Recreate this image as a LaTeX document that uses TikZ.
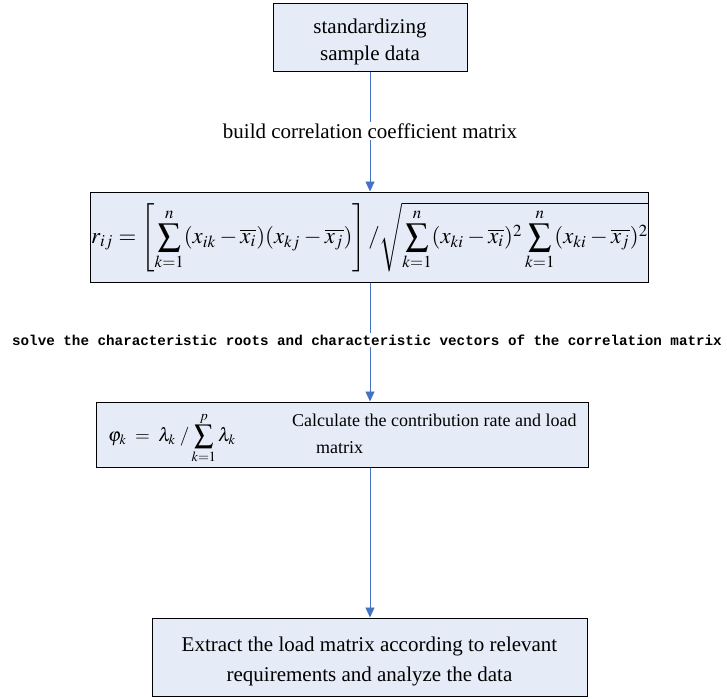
\documentclass[tikz,border=0pt]{standalone}
\usepackage{mathptmx}
\usepackage[no-math]{fontspec}
\setmainfont{Liberation Serif}
\setmonofont{Liberation Mono}
\usepackage{graphicx}
\usetikzlibrary{arrows.meta}
\definecolor{boxfill}{RGB}{230,236,247}
\definecolor{linkblue}{RGB}{68,114,196}
\begin{document}
\begin{tikzpicture}[x=1pt,y=-1pt,
  boxstyle/.style={draw=black, line width=1pt, fill=boxfill, inner sep=0pt},
  conn/.style={draw=linkblue, line width=0.9pt, -{Triangle[length=10pt,width=9pt]}},
  lbl/.style={fill=white, inner sep=2pt, font=\fontsize{21}{26}\selectfont}]
\useasboundingbox (0,0) rectangle (727,698);

\node[boxstyle, minimum width=194pt, minimum height=68pt] (b1) at (370,38) {};
\node[align=center, inner sep=0pt, font=\fontsize{21}{27}\selectfont] (t1) at (370,42) {standardizing\\sample data};

\node[boxstyle, minimum width=558pt, minimum height=90pt] (b2) at (369,237) {};
\node[anchor=west, inner sep=0pt] (f2) at (91,237) {\resizebox{557pt}{!}{$\displaystyle r_{ij}=\left[\sum_{k=1}^{n}(x_{ik}-\overline{x_i})(x_{kj}-\overline{x_j})\right]/\sqrt{\sum_{k=1}^{n}(x_{ki}-\overline{x_i})^2\sum_{k=1}^{n}(x_{ki}-\overline{x_j})^2}$}};

\node[boxstyle, minimum width=492pt, minimum height=65pt] (b3) at (342,434.5) {};
\node[anchor=west, inner sep=0pt, font=\fontsize{19}{23}\selectfont] (f3) at (108,438) {$\displaystyle \varphi_k\;=\;\lambda_k\;/\sum_{k=1}^{p}\lambda_k$};
\node[anchor=north west, align=left, inner sep=0pt,
      font=\fontsize{18}{27}\selectfont] (t3) at (292,414) {Calculate the contribution rate and load\\\hspace*{24pt}matrix};

\node[boxstyle, minimum width=435pt, minimum height=78pt] (b4) at (369.5,657) {};
\node[align=center, inner sep=0pt, font=\fontsize{21}{30}\selectfont] (t4) at (369.5,661) {Extract the load matrix according to relevant\\requirements and analyze the data};

\draw[conn] (b1.south) -- (b1.south |- b2.north);
\draw[conn] (b2.south -| b1.south) -- (b1.south |- b3.north);
\draw[conn] (b3.south -| b1.south) -- (b1.south |- b4.north);

\node[lbl] (l1) at (370,131) {build correlation coefficient matrix};
\node[lbl, font=\ttfamily\bfseries\fontsize{14.25}{16}\selectfont] (l2) at (367,340) {solve the characteristic roots and characteristic vectors of the correlation matrix};
\end{tikzpicture}
\end{document}
